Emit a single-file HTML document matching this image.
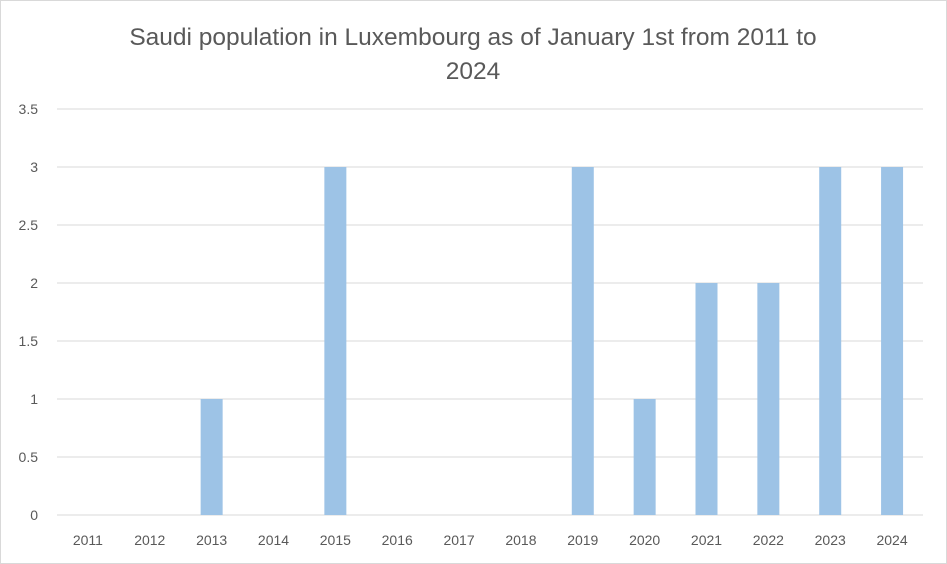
<!DOCTYPE html>
<html><head><meta charset="utf-8"><style>
body{margin:0;background:#fff;}
svg{display:block;font-family:"Liberation Sans",Calibri,sans-serif;}
</style></head><body>
<svg width="947" height="564">
<rect x="0.5" y="0.5" width="946" height="563" fill="#fff" stroke="#d9d9d9"/>
<text x="473" y="45" text-anchor="middle" font-size="24.5" fill="#595959">Saudi population in Luxembourg as of January 1st from 2011 to</text>
<text x="473" y="79" text-anchor="middle" font-size="24.5" fill="#595959">2024</text>
<g id="grid"></g><g id="bars"></g><g id="xl"></g>
</svg>
<script>
const categories=["2011","2012","2013","2014","2015","2016","2017","2018","2019","2020","2021","2022","2023","2024"];
const values=[0,0,1,0,3,0,0,0,3,1,2,2,3,3];
const yTicks=[0,0.5,1,1.5,2,2.5,3,3.5];
const yTickLabels=["0","0.5","1","1.5","2","2.5","3","3.5"];
const NS="http://www.w3.org/2000/svg";
const L=57,R=923,T=109,B=515,YMAX=3.5;
const y=v=>B-(v/YMAX)*(B-T);
const step=(R-L)/categories.length;
const x=i=>L+step*(i+0.5);
function mk(t,a,p){const e=document.createElementNS(NS,t);for(const k in a)e.setAttribute(k,a[k]);p.appendChild(e);return e;}
const g=document.getElementById('grid'),b=document.getElementById('bars'),xl=document.getElementById('xl');
yTicks.forEach((v,i)=>{
const ln=mk('line',{x1:L,x2:R,y1:y(v),y2:y(v),stroke:'#d9d9d9','stroke-width':1},g);


const t=mk('text',{x:38,y:y(v)+5,'text-anchor':'end','font-size':14,fill:'#595959'},g);
t.textContent=yTickLabels[i];


});
categories.forEach((c,i)=>{
const bw=22;
if(values[i]>0){
const r=mk('rect',{x:x(i)-bw/2,y:y(values[i]),width:bw,height:B-y(values[i]),fill:'#9dc3e6'},b);


}
const t=mk('text',{x:x(i),y:545,'text-anchor':'middle','font-size':14,fill:'#595959'},xl);
t.textContent=c;


});
</script>
</body></html>
